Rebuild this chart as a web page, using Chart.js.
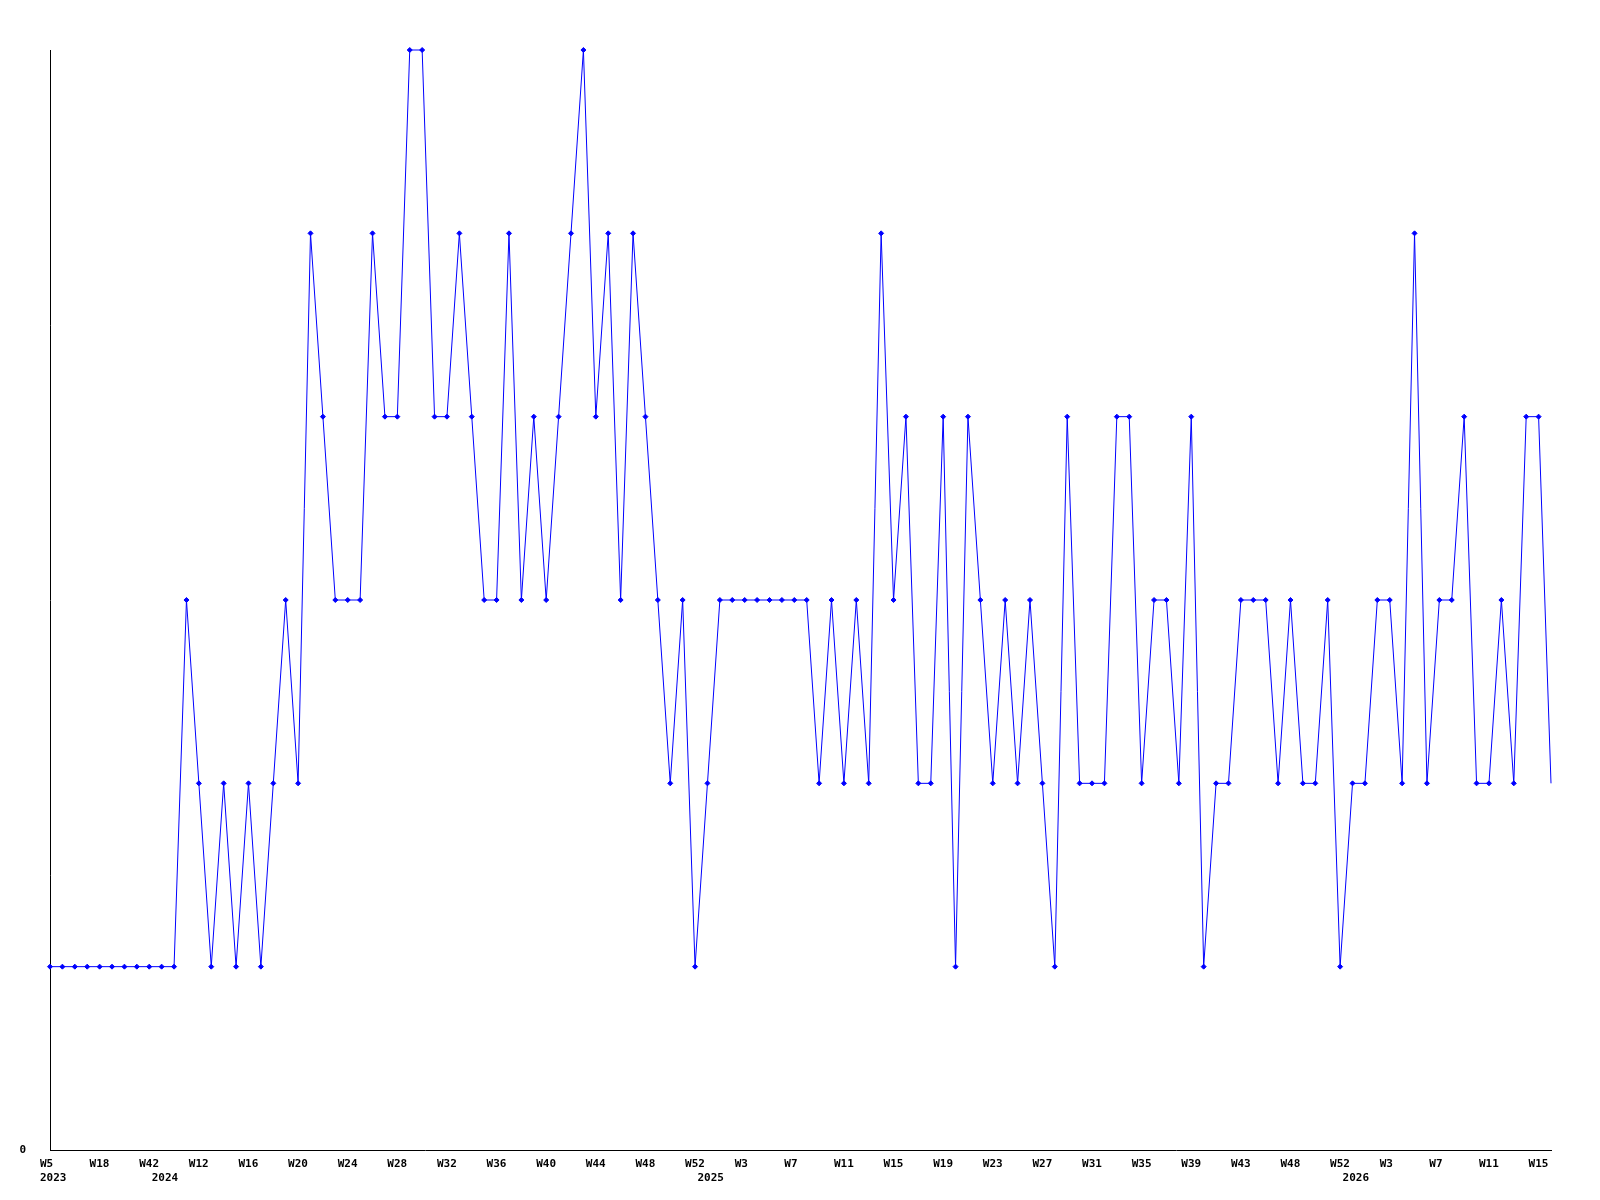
<!DOCTYPE html>
<html>
<head>
<meta charset="utf-8">
<script src="https://cdn.jsdelivr.net/npm/chart.js@4.4.0/dist/chart.umd.min.js"></script>
<style>
  html, body { margin: 0; padding: 0; background: #fff; }
  #wrap { width: 1600px; height: 1200px; }
</style>
</head>
<body>
<div id="wrap"><canvas id="myChart"></canvas></div>
<script>
// weeks per year, as they appear on the x axis
var weeks2023 = ['W5', 'W8', 'W11', 'W14', 'W18', 'W24', 'W30', 'W36', 'W42'];
var weeks2024 = ['W9', 'W10', 'W11', 'W12', 'W13', 'W14', 'W15', 'W16', 'W17', 'W18',
  'W19', 'W20', 'W21', 'W22', 'W23', 'W24', 'W25', 'W26', 'W27', 'W28', 'W29', 'W30',
  'W31', 'W32', 'W33', 'W34', 'W35', 'W36', 'W37', 'W38', 'W39', 'W40', 'W41', 'W42',
  'W43', 'W44', 'W45', 'W46', 'W47', 'W48', 'W49', 'W50', 'W51', 'W52'];
var weeks2025 = ['W0', 'W1', 'W2', 'W3', 'W4', 'W5', 'W6', 'W7', 'W8', 'W9', 'W10',
  'W11', 'W12', 'W13', 'W14', 'W15', 'W16', 'W17', 'W18', 'W19', 'W20', 'W21', 'W22',
  'W23', 'W24', 'W25', 'W26', 'W27', 'W28', 'W29', 'W30', 'W31', 'W32', 'W33', 'W34',
  'W35', 'W36', 'W37', 'W38', 'W39', 'W40', 'W41', 'W42', 'W43', 'W44', 'W45', 'W47',
  'W48', 'W49', 'W50', 'W51', 'W52'];
var weeks2026 = ['W0', 'W1', 'W2', 'W3', 'W4', 'W5', 'W6', 'W7', 'W8', 'W9', 'W10',
  'W11', 'W12', 'W13', 'W14', 'W15', 'W16'];

var values = [
  1, 1, 1, 1, 1, 1, 1, 1, 1,
  1, 1, 3, 2, 1, 2, 1, 2, 1, 2, 3, 2, 5, 4, 3, 3, 3, 5, 4, 4, 6, 6, 4, 4, 5, 4, 3, 3,
  5, 3, 4, 3, 4, 5, 6, 4, 5, 3, 5, 4, 3, 2, 3, 1,
  2, 3, 3, 3, 3, 3, 3, 3, 3, 2, 3, 2, 3, 2, 5, 3, 4, 2, 2, 4, 1, 4, 3, 2, 3, 2, 3, 2,
  1, 4, 2, 2, 2, 4, 4, 2, 3, 3, 2, 4, 1, 2, 2, 3, 3, 3, 2, 3, 2, 2, 3, 1,
  2, 2, 3, 3, 2, 5, 2, 3, 3, 4, 2, 2, 3, 2, 4, 4, 2
];

var labels = [];
var years = [];
[['2023', weeks2023], ['2024', weeks2024], ['2025', weeks2025], ['2026', weeks2026]].forEach(function (g) {
  g[1].forEach(function (w) { labels.push(w); years.push(g[0]); });
});

var font = { family: 'DejaVu Sans Mono', size: 11, weight: 'bold' };

var ctx = document.getElementById('myChart').getContext('2d');
var myChart = new Chart(ctx, {
  type: 'line',
  data: {
    labels: labels,
    datasets: [{
      data: values,
      borderColor: '#0000ff',
      backgroundColor: '#0000ff',
      borderWidth: 1,
      tension: 0,
      clip: false,
      pointStyle: 'rectRot',
      pointRadius: function (c) { return c.dataIndex === values.length - 1 ? 0 : 2.5; },
      pointBorderWidth: 1,
      pointHoverRadius: 2.5
    }]
  },
  options: {
    responsive: true,
    maintainAspectRatio: false,
    animation: false,
    devicePixelRatio: 1,
    layout: { padding: { left: 0, top: 50, right: 49, bottom: 0 } },
    plugins: { legend: { display: false }, tooltip: { enabled: false } },
    scales: {
      x: {
        type: 'category',
        offset: false,
        grid: { display: false, drawTicks: false },
        border: { display: true, color: '#000', width: 1 },
        ticks: {
          autoSkip: false, maxRotation: 0, minRotation: 0, padding: 8, color: '#000', font: font,
          align: 'start', labelOffset: -10,
          callback: function (v, i) { return i % 4 === 0 ? labels[i] : ''; }
        },
        afterFit: function (s) { s.height = 22; }
      },
      x2: {
        type: 'category',
        position: 'bottom',
        offset: false,
        grid: { display: false, drawTicks: false },
        border: { display: false },
        ticks: {
          autoSkip: false, maxRotation: 0, minRotation: 0, padding: 0, color: '#000', font: font,
          align: 'start', labelOffset: -10,
          callback: function (v, i) { return (i === 0 || years[i] !== years[i - 1]) ? years[i] : ''; }
        },
        afterFit: function (s) { s.height = 28; }
      },
      y: {
        min: 0,
        max: 6,
        grid: { display: false, drawTicks: false },
        border: { display: true, color: '#000', width: 1 },
        ticks: { padding: 24, color: '#000', font: font },
        afterBuildTicks: function (s) { s.ticks = [{ value: 0 }]; },
        afterFit: function (s) { s.width = 50; }
      }
    }
  }
});
</script>
</body>
</html>
